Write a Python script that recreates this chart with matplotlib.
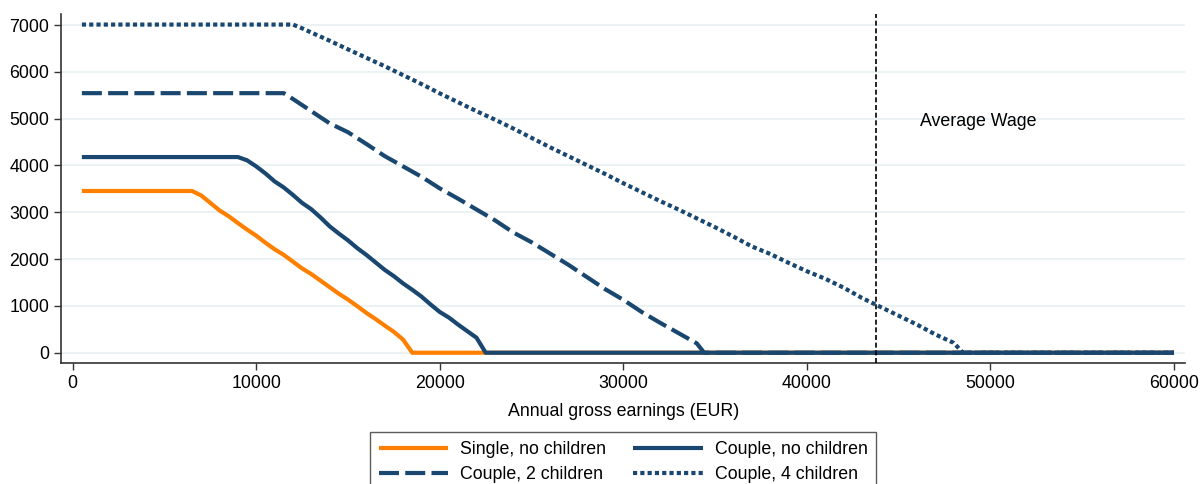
import matplotlib
matplotlib.use("Agg")
import matplotlib.pyplot as plt

plt.rcParams['font.family'] = ['Liberation Sans', 'DejaVu Sans']

# ---- data ----
single_x = [500, 6500, 7000, 7500, 8000, 8500, 9000, 9500, 10000, 10500, 11000, 11500,
            12000, 12500, 13000, 13500, 14000, 14500, 15000, 15500, 16000, 16500, 17000,
            17500, 18000, 18500, 60000]
single_y = [3455, 3455, 3360, 3200, 3040, 2915, 2770, 2630, 2500, 2350, 2210, 2090,
            1945, 1800, 1680, 1540, 1400, 1260, 1135, 995, 850, 720, 580,
            445, 280, 0, 0]

couple0_x = [500, 9000, 9500, 10000, 10500, 11000, 11500, 12000, 12500, 13000, 13500,
             14000, 14500, 15000, 15500, 16000, 16500, 17000, 17500, 18000, 18500, 19000,
             19500, 20000, 20500, 21000, 21500, 22000, 22500, 60000]
couple0_y = [4180, 4180, 4110, 3980, 3830, 3660, 3530, 3370, 3200, 3065, 2890,
             2700, 2545, 2400, 2235, 2090, 1930, 1770, 1635, 1480, 1345, 1200,
             1030, 870, 750, 600, 460, 320, 0, 0]

couple2_x = [500, 11500, 12000, 13000, 14000, 15000, 16000, 17000, 18000, 19000, 20000,
             21000, 22000, 23000, 24000, 25000, 26000, 27000, 28000, 29000, 30000, 31000,
             32000, 33000, 34000, 34400, 60000]
couple2_y = [5545, 5545, 5420, 5160, 4900, 4710, 4460, 4200, 3980, 3760, 3510,
             3290, 3060, 2830, 2570, 2360, 2120, 1880, 1620, 1360, 1130, 870,
             640, 420, 200, 0, 0]

couple4_x = [500, 12000, 12500, 13000, 14000, 15000, 16000, 17000, 18000, 19000, 20000,
             21000, 22000, 23000, 24000, 25000, 26000, 27000, 28000, 29000, 30000, 31000,
             32000, 33000, 34000, 35000, 36000, 37000, 38000, 39000, 40000, 41000, 42000,
             43000, 44000, 45000, 46000, 47000, 48000, 48500, 60000]
couple4_y = [7010, 7010, 6930, 6840, 6665, 6480, 6300, 6120, 5930, 5740, 5540,
             5350, 5160, 4980, 4790, 4590, 4390, 4200, 4010, 3820, 3620, 3430,
             3240, 3060, 2870, 2680, 2480, 2270, 2110, 1920, 1740, 1580, 1390,
             1170, 980, 790, 600, 390, 210, 0, 0]

labels = ["Single, no children", "Couple, no children", "Couple, 2 children", "Couple, 4 children"]
average_wage = 43780
avg_label = "Average Wage"
xticks = [0, 10000, 20000, 30000, 40000, 50000, 60000]
yticks = [0, 1000, 2000, 3000, 4000, 5000, 6000, 7000]

navy = '#1A476F'
orange = '#FF8000'
FS = 12.8

fig = plt.figure(figsize=(12, 4.84), dpi=100)
ax = fig.add_axes([61.3/1200, 1-363.3/484, (1185-61.3)/1200, (363.3-14)/484])

for y in yticks:
    ax.axhline(y, color='#EAF2F3', lw=1.5, zorder=0)

lw = 3.0
l1, = ax.plot(single_x, single_y, color=orange, lw=lw, solid_capstyle='butt', solid_joinstyle='round', label=labels[0])
l2, = ax.plot(couple0_x, couple0_y, color=navy, lw=lw, solid_capstyle='butt', solid_joinstyle='round', label=labels[1])
l3, = ax.plot(couple2_x, couple2_y, color=navy, lw=lw, linestyle=(0, (4.8, 1.5)), label=labels[2])
l4, = ax.plot(couple4_x, couple4_y, color=navy, lw=lw, linestyle=(0, (1.0, 0.75)), label=labels[3])

ax.axvline(average_wage, color='black', lw=1.2, linestyle=(0, (3, 1.6)), zorder=5)
ax.text(46160, 4950, avg_label, fontsize=FS, ha='left', va='center')

ax.set_xlim(-621, 60599)
ax.set_ylim(-226, 7236)
ax.set_xticks(xticks)
ax.set_yticks(yticks)
ax.set_xticklabels([str(v) for v in xticks])
ax.set_yticklabels([str(v) for v in yticks])
ax.tick_params(axis='both', labelsize=FS, length=5, width=1, color='#333333', pad=3.5)

for s in ['top', 'right']:
    ax.spines[s].set_visible(False)
for s in ['left', 'bottom']:
    ax.spines[s].set_color('#333333')
    ax.spines[s].set_linewidth(1.2)

ax.set_xlabel("Annual gross earnings (EUR)", fontsize=FS, va='baseline')
ax.xaxis.set_label_coords(0.5, -(416-363.3)/349.3)

# column-wise filling: order so rows read Single | Couple no children ; Couple 2 | Couple 4
leg = fig.legend(handles=[l1, l3, l2, l4], ncol=2, loc='upper center',
                 bbox_to_anchor=(623/1200, 1-432/484), fontsize=FS,
                 frameon=True, fancybox=False, edgecolor='#333333',
                 handlelength=3.9, handletextpad=0.67, columnspacing=1.55,
                 borderpad=0.5, labelspacing=0.45, borderaxespad=0)
leg.get_frame().set_linewidth(1.0)

fig.savefig('out.png', dpi=100)
